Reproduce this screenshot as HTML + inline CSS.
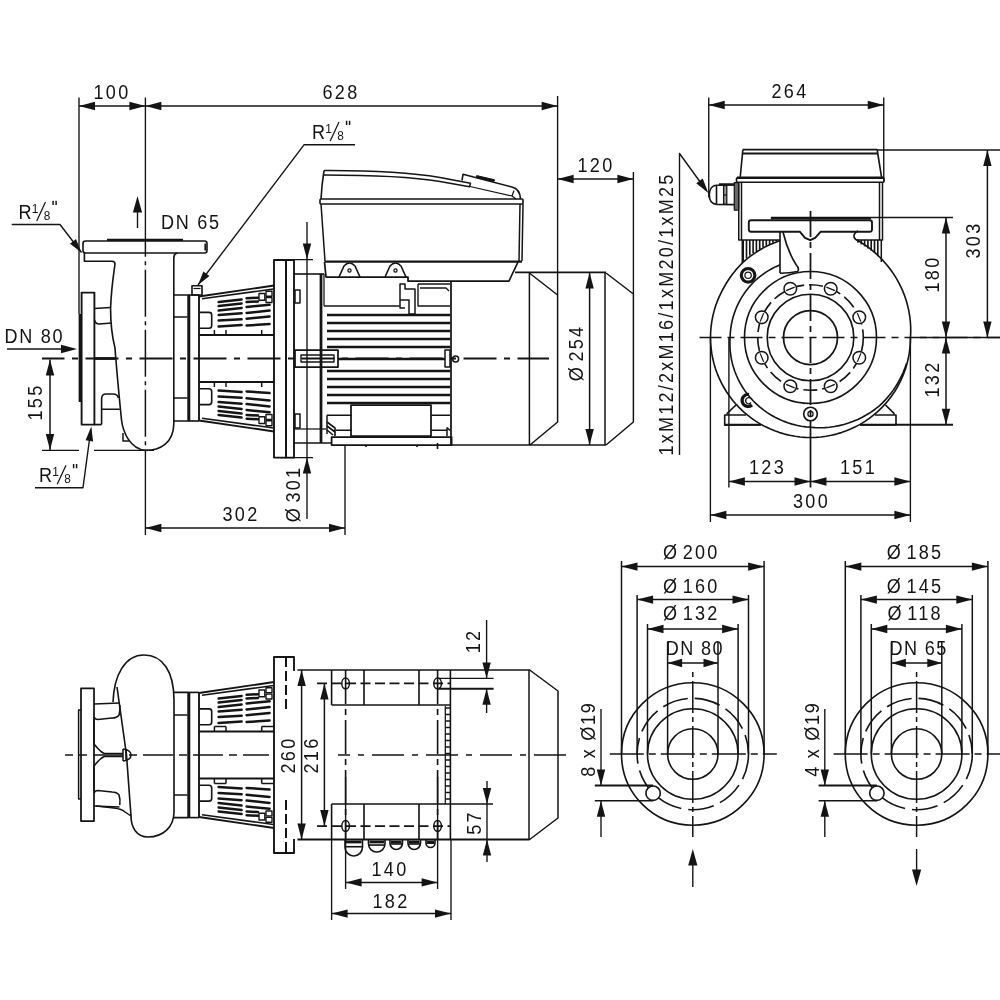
<!DOCTYPE html>
<html><head><meta charset="utf-8"><title>Pump dimension drawing</title>
<style>
html,body{margin:0;padding:0;background:#fff;}
body{width:1000px;height:1000px;overflow:hidden;}
svg{display:block;filter:grayscale(1);}
svg text{font-family:"Liberation Sans",sans-serif;fill:#141414;stroke:none;}
</style></head><body>
<svg width="1000" height="1000" viewBox="0 0 1000 1000" fill="none" stroke="#141414" stroke-linecap="butt" stroke-linejoin="round">
<rect x="0" y="0" width="1000" height="1000" fill="#ffffff" stroke="none"/>
<line x1="79" y1="97.5" x2="79" y2="314" stroke-width="1.38"/>
<line x1="145.4" y1="97.5" x2="145.4" y2="242" stroke-width="1.38"/>
<line x1="557.6" y1="96" x2="557.6" y2="295" stroke-width="1.38"/>
<line x1="79" y1="106" x2="145.4" y2="106" stroke-width="1.5"/>
<polygon points="79,106 95,101.8 95,110.2" fill="#141414" stroke="none"/>
<polygon points="145.4,106 129.4,110.2 129.4,101.8" fill="#141414" stroke="none"/>
<line x1="145.4" y1="106" x2="557.6" y2="106" stroke-width="1.5"/>
<polygon points="145.4,106 161.4,101.8 161.4,110.2" fill="#141414" stroke="none"/>
<polygon points="557.6,106 541.6,110.2 541.6,101.8" fill="#141414" stroke="none"/>
<text x="0" y="0" text-anchor="middle" font-size="21" letter-spacing="2.6" transform="translate(112 98.5) scale(0.86 1)" >100</text>
<text x="0" y="0" text-anchor="middle" font-size="21" letter-spacing="2.6" transform="translate(341 98.5) scale(0.86 1)" >628</text>
<line x1="633.4" y1="172" x2="633.4" y2="294" stroke-width="1.38"/>
<line x1="557.6" y1="179" x2="633.4" y2="179" stroke-width="1.5"/>
<polygon points="557.6,179 573.6,174.8 573.6,183.2" fill="#141414" stroke="none"/>
<polygon points="633.4,179 617.4,183.2 617.4,174.8" fill="#141414" stroke="none"/>
<text x="0" y="0" text-anchor="middle" font-size="21" letter-spacing="2.6" transform="translate(596 171.5) scale(0.86 1)" >120</text>
<line x1="589.6" y1="272.4" x2="589.6" y2="445" stroke-width="1.5"/>
<polygon points="589.6,272.4 593.8,288.4 585.4,288.4" fill="#141414" stroke="none"/>
<polygon points="589.6,445 585.4,429 593.8,429" fill="#141414" stroke="none"/>
<text x="0" y="0" text-anchor="middle" font-size="21" letter-spacing="2.6" transform="translate(583 353) rotate(-90) scale(0.86 1)" >Ø<tspan dx="-4.5"> </tspan>254</text>
<line x1="307" y1="222" x2="307" y2="519" stroke-width="1.38"/>
<polygon points="307,259.4 302.8,243.4 311.2,243.4" fill="#141414" stroke="none"/>
<line x1="274" y1="259.6" x2="313" y2="259.6" stroke-width="1.38"/>
<polygon points="307,457.6 311.2,473.6 302.8,473.6" fill="#141414" stroke="none"/>
<line x1="280" y1="457.6" x2="313" y2="457.6" stroke-width="1.38"/>
<text x="0" y="0" text-anchor="middle" font-size="21" letter-spacing="2.6" transform="translate(300 494) rotate(-90) scale(0.86 1)" >Ø<tspan dx="-4.5"> </tspan>301</text>
<line x1="145.4" y1="450" x2="145.4" y2="535" stroke-width="1.38"/>
<line x1="345" y1="445" x2="345" y2="535" stroke-width="1.38"/>
<line x1="145.4" y1="528" x2="345" y2="528" stroke-width="1.5"/>
<polygon points="145.4,528 161.4,523.8 161.4,532.2" fill="#141414" stroke="none"/>
<polygon points="345,528 329,532.2 329,523.8" fill="#141414" stroke="none"/>
<text x="0" y="0" text-anchor="middle" font-size="21" letter-spacing="2.6" transform="translate(241 521) scale(0.86 1)" >302</text>
<line x1="50" y1="359.5" x2="50" y2="450" stroke-width="1.5"/>
<polygon points="50,359.5 54.2,375.5 45.8,375.5" fill="#141414" stroke="none"/>
<polygon points="50,450 45.8,434 54.2,434" fill="#141414" stroke="none"/>
<line x1="42" y1="450.4" x2="79" y2="450.4" stroke-width="1.38"/>
<line x1="94" y1="450.4" x2="154" y2="450.4" stroke-width="1.38"/>
<text x="0" y="0" text-anchor="middle" font-size="21" letter-spacing="2.6" transform="translate(42 402) rotate(-90) scale(0.86 1)" >155</text>
<text x="0" y="0" text-anchor="start" font-size="21" letter-spacing="2.0" transform="translate(4.5 342.5) scale(0.86 1)" >DN 80</text>
<line x1="7" y1="349" x2="62" y2="349" stroke-width="1.38"/>
<polygon points="77,349 61,353.2 61,344.8" fill="#141414" stroke="none"/>
<text x="0" y="0" text-anchor="start" font-size="21" letter-spacing="0" transform="translate(18.5 218.5) scale(0.86 1)" >R</text>
<text x="0" y="0" text-anchor="start" font-size="12.5" letter-spacing="0" transform="translate(31.7 213) scale(0.95 1)" >1</text>
<line x1="36.7" y1="221" x2="45.5" y2="202" stroke-width="1.25"/>
<text x="0" y="0" text-anchor="start" font-size="12.5" letter-spacing="0" transform="translate(43.8 219.5) scale(0.95 1)" >8</text>
<path d="M53.1 205 l0 -4.2 M56.1 205 l0 -4.2" stroke-width="1.5"/>
<path d="M11.7 224.5 L60 224.5 L81.5 252.5" stroke-width="1.38" fill="none" />
<polygon points="81.5,252.5 69.96,243.71 75.99,239.08" fill="#141414" stroke="none"/>
<text x="0" y="0" text-anchor="start" font-size="21" letter-spacing="0" transform="translate(39 481.8) scale(0.86 1)" >R</text>
<text x="0" y="0" text-anchor="start" font-size="12.5" letter-spacing="0" transform="translate(52.2 476.3) scale(0.95 1)" >1</text>
<line x1="57.2" y1="484.3" x2="66" y2="465.3" stroke-width="1.25"/>
<text x="0" y="0" text-anchor="start" font-size="12.5" letter-spacing="0" transform="translate(64.3 482.8) scale(0.95 1)" >8</text>
<path d="M73.6 468.3 l0 -4.2 M76.6 468.3 l0 -4.2" stroke-width="1.5"/>
<path d="M35 487.7 L83 487.7 L90.9 429" stroke-width="1.38" fill="none" />
<polygon points="91.3,426.5 93.12,441.38 85.59,440.36" fill="#141414" stroke="none"/>
<text x="0" y="0" text-anchor="start" font-size="21" letter-spacing="0" transform="translate(312 138.5) scale(0.86 1)" >R</text>
<text x="0" y="0" text-anchor="start" font-size="12.5" letter-spacing="0" transform="translate(325.2 133) scale(0.95 1)" >1</text>
<line x1="330.2" y1="141" x2="339" y2="122" stroke-width="1.25"/>
<text x="0" y="0" text-anchor="start" font-size="12.5" letter-spacing="0" transform="translate(337.3 139.5) scale(0.95 1)" >8</text>
<path d="M346.6 125 l0 -4.2 M349.6 125 l0 -4.2" stroke-width="1.5"/>
<path d="M355 144.8 L304 144.8 L198 285" stroke-width="1.38" fill="none" />
<polygon points="198,285 203.39,271.53 209.46,276.11" fill="#141414" stroke="none"/>
<text x="0" y="0" text-anchor="start" font-size="21" letter-spacing="2.0" transform="translate(161 228.5) scale(0.86 1)" >DN 65</text>
<line x1="137.5" y1="228" x2="137.5" y2="208" stroke-width="1.38"/>
<polygon points="137.5,196 142.1,212.5 132.9,212.5" fill="#141414" stroke="none"/>
<line x1="42" y1="358.5" x2="549" y2="358.5" stroke-width="1.88" stroke-dasharray="33 7.5 6 7.5" stroke-dashoffset="10.5"/>
<line x1="145.4" y1="242" x2="145.4" y2="450.4" stroke-width="1.5" stroke-dasharray="47 4.5 4 4.5" stroke-dashoffset="32.3"/>
<rect x="83" y="241" width="124" height="12" rx="2.5" stroke-width="1.62" fill="none"/>
<line x1="107" y1="239.9" x2="183" y2="239.9" stroke-width="2.25"/>
<line x1="205.2" y1="243.5" x2="205.2" y2="250.5" stroke-width="1.62"/>
<path d="M84.4 253 L84.4 261.3 L112 261.3 Q115 261.5 115 264 C113.5 275 111.3 288 110.6 308 C110.5 325 113 340 115 348 C117 375 119.5 400 121.5 420 C123 432 130 449 145.4 450.4 C160 450.4 173.6 443 173.8 424 L173.8 258 Q173.8 253.5 177.5 253" stroke-width="1.62" fill="none" />
<rect x="81.6" y="292.6" width="12.8" height="132" rx="0" stroke-width="1.88" fill="none"/>
<line x1="80" y1="314" x2="80" y2="402" stroke-width="2.75"/>
<line x1="94.4" y1="358.5" x2="116" y2="358.5" stroke-width="2.75"/>
<path d="M94.4 308.5 L110.5 307.5 M94.4 320 Q95.5 324 99 324 L112 323" stroke-width="1.62" fill="none" />
<path d="M101.6 424.6 L101.6 399 Q101.6 394 106 394 L113 394 Q117.5 394 118.5 398 M101.6 409.3 L119.8 409.3" stroke-width="1.62" fill="none" />
<line x1="94.4" y1="424.6" x2="101.6" y2="424.6" stroke-width="1.75"/>
<path d="M123 433 L123 441 L129 441" stroke-width="1.5" fill="none" />
<path d="M173.8 295 L188 295 M173.8 421 L188 421 M173.8 317 L187.5 317 M173.8 398 L187.5 398" stroke-width="1.62" fill="none" />
<line x1="188.8" y1="295" x2="188.8" y2="421" stroke-width="3"/>
<line x1="199" y1="295" x2="199" y2="421" stroke-width="1.88"/>
<line x1="188" y1="295" x2="199" y2="295" stroke-width="1.62"/>
<line x1="188" y1="421" x2="199" y2="421" stroke-width="1.62"/>
<rect x="192" y="285.8" width="10" height="9.2" rx="0" stroke-width="1.62" fill="none"/>
<line x1="193.5" y1="288.5" x2="200.5" y2="288.5" stroke-width="1.25"/>
<line x1="199" y1="296.5" x2="274" y2="285.5" stroke-width="1.88"/>
<line x1="202" y1="298.7" x2="273.5" y2="289" stroke-width="1.5"/>
<line x1="199" y1="335" x2="274" y2="335" stroke-width="2.12"/>
<line x1="218.6" y1="326.4" x2="241.6" y2="325" stroke-width="2.5" stroke-linecap="round"/>
<line x1="218.6" y1="320.5" x2="241.6" y2="319.2" stroke-width="2.5" stroke-linecap="round"/>
<line x1="218.6" y1="315" x2="241.6" y2="313.3" stroke-width="2.5" stroke-linecap="round"/>
<line x1="218.6" y1="310.6" x2="241.6" y2="308" stroke-width="2.5" stroke-linecap="round"/>
<line x1="218.6" y1="306" x2="241.6" y2="303.4" stroke-width="2.5" stroke-linecap="round"/>
<line x1="218.6" y1="302" x2="241.6" y2="299.4" stroke-width="2.5" stroke-linecap="round"/>
<line x1="246.6" y1="325.5" x2="269.6" y2="324" stroke-width="2.5" stroke-linecap="round"/>
<line x1="246.6" y1="318.7" x2="269.6" y2="316.5" stroke-width="2.5" stroke-linecap="round"/>
<line x1="246.6" y1="312.9" x2="269.6" y2="310.6" stroke-width="2.5" stroke-linecap="round"/>
<line x1="246.6" y1="307" x2="269.6" y2="304.8" stroke-width="2.5" stroke-linecap="round"/>
<line x1="246.6" y1="302" x2="258" y2="301.5" stroke-width="2.5" stroke-linecap="round"/>
<line x1="246.6" y1="298.3" x2="258" y2="297.71" stroke-width="2.5" stroke-linecap="round"/>
<path d="M199.5 312.4 L209 312.4 Q211.7 312.4 211.7 315 L211.7 325.5 Q211.7 328.2 209 328.2 L199.5 328.2" stroke-width="1.62" fill="none" />
<rect x="259" y="293.5" width="5.8" height="6.8" rx="0" stroke-width="1.38" fill="#fff"/>
<rect x="266" y="291.3" width="6" height="4.9" rx="0" stroke-width="1.38" fill="#fff"/>
<rect x="266" y="297.6" width="6" height="4.9" rx="0" stroke-width="1.38" fill="#fff"/>
<line x1="214.4" y1="335" x2="214.4" y2="330" stroke-width="1.5"/>
<line x1="226" y1="335" x2="226" y2="330" stroke-width="1.5"/>
<line x1="261.7" y1="335" x2="261.7" y2="330" stroke-width="1.5"/>
<line x1="199" y1="420.5" x2="274" y2="431.5" stroke-width="1.88"/>
<line x1="202" y1="418.3" x2="273.5" y2="428" stroke-width="1.5"/>
<line x1="199" y1="382" x2="274" y2="382" stroke-width="2.12"/>
<line x1="218.6" y1="390.6" x2="241.6" y2="392" stroke-width="2.5" stroke-linecap="round"/>
<line x1="218.6" y1="396.5" x2="241.6" y2="397.8" stroke-width="2.5" stroke-linecap="round"/>
<line x1="218.6" y1="402" x2="241.6" y2="403.7" stroke-width="2.5" stroke-linecap="round"/>
<line x1="218.6" y1="406.4" x2="241.6" y2="409" stroke-width="2.5" stroke-linecap="round"/>
<line x1="218.6" y1="411" x2="241.6" y2="413.6" stroke-width="2.5" stroke-linecap="round"/>
<line x1="218.6" y1="415" x2="241.6" y2="417.6" stroke-width="2.5" stroke-linecap="round"/>
<line x1="246.6" y1="391.5" x2="269.6" y2="393" stroke-width="2.5" stroke-linecap="round"/>
<line x1="246.6" y1="398.3" x2="269.6" y2="400.5" stroke-width="2.5" stroke-linecap="round"/>
<line x1="246.6" y1="404.1" x2="269.6" y2="406.4" stroke-width="2.5" stroke-linecap="round"/>
<line x1="246.6" y1="410" x2="269.6" y2="412.2" stroke-width="2.5" stroke-linecap="round"/>
<line x1="246.6" y1="415" x2="258" y2="415.5" stroke-width="2.5" stroke-linecap="round"/>
<line x1="246.6" y1="418.7" x2="258" y2="419.29" stroke-width="2.5" stroke-linecap="round"/>
<path d="M199.5 404.6 L209 404.6 Q211.7 404.6 211.7 402 L211.7 391.5 Q211.7 388.8 209 388.8 L199.5 388.8" stroke-width="1.62" fill="none" />
<rect x="259" y="416.7" width="5.8" height="6.8" rx="0" stroke-width="1.38" fill="#fff"/>
<rect x="266" y="420.8" width="6" height="4.9" rx="0" stroke-width="1.38" fill="#fff"/>
<rect x="266" y="414.5" width="6" height="4.9" rx="0" stroke-width="1.38" fill="#fff"/>
<line x1="214.4" y1="382" x2="214.4" y2="387" stroke-width="1.5"/>
<line x1="226" y1="382" x2="226" y2="387" stroke-width="1.5"/>
<line x1="261.7" y1="382" x2="261.7" y2="387" stroke-width="1.5"/>
<rect x="274" y="260" width="20" height="197.6" rx="0" stroke-width="1.88" fill="none"/>
<line x1="286" y1="260" x2="286" y2="457.6" stroke-width="2"/>
<rect x="295" y="290" width="5" height="13" rx="0" stroke-width="1.5" fill="none"/>
<rect x="295" y="414" width="5" height="14" rx="0" stroke-width="1.5" fill="none"/>
<line x1="294" y1="274" x2="324" y2="274" stroke-width="1.62"/>
<line x1="294" y1="443" x2="331" y2="443" stroke-width="1.62"/>
<line x1="294" y1="429" x2="326" y2="429" stroke-width="1.25"/>
<rect x="295" y="350" width="43" height="17" rx="0" stroke-width="1.75" fill="none"/>
<rect x="301" y="355" width="33" height="7" rx="0" stroke-width="1.38" fill="none"/>
<line x1="321" y1="274" x2="321" y2="443" stroke-width="2.75"/>
<line x1="324" y1="274" x2="324" y2="306" stroke-width="1.25"/>
<line x1="324" y1="306" x2="399.5" y2="306" stroke-width="1.5"/>
<line x1="327" y1="315" x2="450" y2="315" stroke-width="2.62"/>
<line x1="327" y1="323" x2="450" y2="323" stroke-width="2.62"/>
<line x1="327" y1="331" x2="450" y2="331" stroke-width="2.62"/>
<line x1="327" y1="339" x2="450" y2="339" stroke-width="2.62"/>
<line x1="327" y1="347" x2="450" y2="347" stroke-width="2.62"/>
<line x1="327" y1="371" x2="450" y2="371" stroke-width="2.62"/>
<line x1="327" y1="379" x2="450" y2="379" stroke-width="2.62"/>
<line x1="327" y1="387" x2="450" y2="387" stroke-width="2.62"/>
<line x1="327" y1="395" x2="450" y2="395" stroke-width="2.62"/>
<line x1="327" y1="403" x2="450" y2="403" stroke-width="2.62"/>
<line x1="338" y1="359" x2="445" y2="359" stroke-width="2.62"/>
<rect x="445" y="350" width="5" height="17" rx="0" stroke-width="1.5" fill="none"/>
<circle cx="455.6" cy="359" r="3" stroke-width="1.5" fill="none"/>
<line x1="451" y1="281" x2="451" y2="445" stroke-width="1.75"/>
<rect x="351" y="405" width="80" height="31" rx="0" stroke-width="1.75" fill="none"/>
<path d="M327 415.2 L351.7 415.2 M431.2 415.2 L450 415.2 M327 415.2 L327 434 M335.5 430.2 L351.7 430.2 M431.2 430.2 L447 430.2 M447 427.5 L450 430.5 M447 427.5 L447 436" stroke-width="1.5" fill="none" />
<path d="M327 422 L335 428 L335 436 M327 426 L335 432 M327 430 L333 435" stroke-width="1.62" fill="none" />
<rect x="331.6" y="437" width="120" height="8" rx="0" stroke-width="1.75" fill="none"/>
<path d="M366 445 L366 447 M417 445 L417 447 M437.5 443 L437.5 449" stroke-width="1.62" fill="none" />
<path d="M400 284 L405 284 L405 289 L415 289 L415 314 L409 314 L409 300 L400 300 Z M400 300 L400 308 L405 308" stroke-width="1.5" fill="none" />
<path d="M418 284 L450 284 M418 284 L418 306 L450 306 M420 288 L446 288 L449 291" stroke-width="1.38" fill="none" />
<path d="M324 170.6 C365 170.4 410 172.5 440 177.5 L470.5 183.3 L469.5 186.8 L440 181.5 C410 176.5 365 175 323.5 175" stroke-width="1.5" fill="none" />
<path d="M324 170.6 C322.5 180 321.5 190 321 199" stroke-width="1.62" fill="none" />
<path d="M462 180.5 L463 174.3 L512 187 Q520 189 520.5 199 M476 176 L495 180.5" stroke-width="1.62" fill="none" />
<line x1="477" y1="176.8" x2="494" y2="180.6" stroke-width="3"/>
<path d="M470 186.5 L512 196 L514 190.5 M512 196 L516 199" stroke-width="1.25" fill="none" />
<rect x="320" y="199" width="203" height="5" rx="1" stroke-width="1.62" fill="none"/>
<path d="M321 204 L325 261 M523 204 L522 261 M520 204 L519 261" stroke-width="1.5" fill="none" />
<line x1="324.5" y1="261.5" x2="522" y2="261.5" stroke-width="2.25"/>
<path d="M518 262 L509 281 L408 281 L408 277 L326 277 L324.5 262" stroke-width="1.75" fill="none" />
<path d="M339 277 L344 266 Q349.5 260 355 266 L360 277" stroke-width="1.62" fill="none" />
<circle cx="349.5" cy="270.5" r="1.6" stroke-width="1.25" fill="none"/>
<path d="M385 277 L390 266 Q395.5 260 401 266 L406 277" stroke-width="1.62" fill="none" />
<circle cx="395.5" cy="270.5" r="1.6" stroke-width="1.25" fill="none"/>
<line x1="515" y1="272.4" x2="606" y2="272.4" stroke-width="1.62"/>
<line x1="451" y1="445" x2="606" y2="445" stroke-width="1.62"/>
<line x1="529.4" y1="272.4" x2="529.4" y2="445" stroke-width="1.5"/>
<line x1="605" y1="272.4" x2="605" y2="445" stroke-width="1.5"/>
<path d="M530 273.5 L557.6 295 L557.6 422 L530 445" stroke-width="1.5" fill="none" />
<path d="M606 273 L633.4 294 L633.4 422 L606 445" stroke-width="1.5" fill="none" />
<line x1="708.75" y1="97.5" x2="708.75" y2="197.5" stroke-width="1.38"/>
<line x1="883.75" y1="97.5" x2="883.75" y2="182" stroke-width="1.38"/>
<line x1="708.75" y1="105" x2="883.75" y2="105" stroke-width="1.5"/>
<polygon points="708.75,105 724.75,100.8 724.75,109.2" fill="#141414" stroke="none"/>
<polygon points="883.75,105 867.75,109.2 867.75,100.8" fill="#141414" stroke="none"/>
<text x="0" y="0" text-anchor="middle" font-size="21" letter-spacing="2.6" transform="translate(790 98) scale(0.86 1)" >264</text>
<line x1="877" y1="150" x2="1000" y2="150" stroke-width="1.38"/>
<line x1="771" y1="217.5" x2="953" y2="217.5" stroke-width="1.38"/>
<line x1="724" y1="424.8" x2="761" y2="424.8" stroke-width="2"/>
<line x1="860" y1="424.8" x2="953" y2="424.8" stroke-width="2"/>
<line x1="987.4" y1="150" x2="987.4" y2="337.5" stroke-width="1.5"/>
<polygon points="987.4,150 991.6,166 983.2,166" fill="#141414" stroke="none"/>
<polygon points="987.4,337.5 983.2,321.5 991.6,321.5" fill="#141414" stroke="none"/>
<line x1="946" y1="217.5" x2="946" y2="337.5" stroke-width="1.5"/>
<polygon points="946,217.5 950.2,233.5 941.8,233.5" fill="#141414" stroke="none"/>
<polygon points="946,337.5 941.8,321.5 950.2,321.5" fill="#141414" stroke="none"/>
<line x1="946" y1="337.5" x2="946" y2="424.8" stroke-width="1.5"/>
<polygon points="946,337.5 950.2,353.5 941.8,353.5" fill="#141414" stroke="none"/>
<polygon points="946,424.8 941.8,408.8 950.2,408.8" fill="#141414" stroke="none"/>
<text x="0" y="0" text-anchor="middle" font-size="21" letter-spacing="2.6" transform="translate(980 240) rotate(-90) scale(0.86 1)" >303</text>
<text x="0" y="0" text-anchor="middle" font-size="21" letter-spacing="2.6" transform="translate(938.5 274) rotate(-90) scale(0.86 1)" >180</text>
<text x="0" y="0" text-anchor="middle" font-size="21" letter-spacing="2.6" transform="translate(938.5 379) rotate(-90) scale(0.86 1)" >132</text>
<text x="0" y="0" text-anchor="middle" font-size="21" letter-spacing="2.6" transform="translate(672.5 314) rotate(-90) scale(0.86 1)" >1xM12/2xM16/1xM20/1xM25</text>
<path d="M679.5 455 L679.5 153.5 L706 190" stroke-width="1.38" fill="none" />
<polygon points="708.3,193 696.25,183.22 702.72,178.51" fill="#141414" stroke="none"/>
<line x1="710.4" y1="337.5" x2="710.4" y2="522" stroke-width="1.38"/>
<line x1="910.4" y1="337.5" x2="910.4" y2="522" stroke-width="1.38"/>
<line x1="728.9" y1="337.5" x2="728.9" y2="487.5" stroke-width="1.38"/>
<line x1="810.5" y1="437.5" x2="810.5" y2="487.5" stroke-width="1.75"/>
<line x1="728.9" y1="481.5" x2="810.5" y2="481.5" stroke-width="1.5"/>
<polygon points="728.9,481.5 744.9,477.3 744.9,485.7" fill="#141414" stroke="none"/>
<polygon points="810.5,481.5 794.5,485.7 794.5,477.3" fill="#141414" stroke="none"/>
<line x1="810.5" y1="481.5" x2="910.4" y2="481.5" stroke-width="1.5"/>
<polygon points="810.5,481.5 826.5,477.3 826.5,485.7" fill="#141414" stroke="none"/>
<polygon points="910.4,481.5 894.4,485.7 894.4,477.3" fill="#141414" stroke="none"/>
<line x1="710.4" y1="515" x2="910.4" y2="515" stroke-width="1.5"/>
<polygon points="710.4,515 726.4,510.8 726.4,519.2" fill="#141414" stroke="none"/>
<polygon points="910.4,515 894.4,519.2 894.4,510.8" fill="#141414" stroke="none"/>
<text x="0" y="0" text-anchor="middle" font-size="21" letter-spacing="2.6" transform="translate(767.5 474) scale(0.86 1)" >123</text>
<text x="0" y="0" text-anchor="middle" font-size="21" letter-spacing="2.6" transform="translate(858.5 474) scale(0.86 1)" >151</text>
<text x="0" y="0" text-anchor="middle" font-size="21" letter-spacing="2.6" transform="translate(811.5 507.5) scale(0.86 1)" >300</text>
<line x1="699.5" y1="337.5" x2="1000" y2="337.5" stroke-width="1.62" stroke-dasharray="22 6 7 6"/>
<line x1="920" y1="337.5" x2="1000" y2="337.5" stroke-width="1.62"/>
<line x1="810.5" y1="211" x2="810.5" y2="437.5" stroke-width="1.75" stroke-dasharray="26 5 6 5"/>
<line x1="742.5" y1="149.7" x2="877.5" y2="149.7" stroke-width="1.75"/>
<line x1="743" y1="153.5" x2="877" y2="153.5" stroke-width="2.12"/>
<path d="M742.8 150 L740.2 177.5 M877.2 150 L881.6 177.5" stroke-width="1.62" fill="none" />
<rect x="736.5" y="177.8" width="147.5" height="4.5" rx="1" stroke-width="1.62" fill="none"/>
<line x1="737" y1="177.8" x2="883.5" y2="177.8" stroke-width="2.38"/>
<path d="M738.75 182.5 L738.75 240 L780 240 M857 240 L882.5 240 L882.5 182.5 M879.5 182.5 L879.5 240 M741.5 182.5 L741.5 240" stroke-width="1.5" fill="none" />
<path d="M716.5 185.2 C711.5 185.5 709.3 190 709.3 195 C709.3 200 711.5 204 716.5 204.4" stroke-width="1.62" fill="none" />
<path d="M716.5 185.2 L734.3 184.8 M716.5 204.4 L734.3 204.6 M716.5 185.2 L716.5 204.4" stroke-width="1.62" fill="none" />
<line x1="719" y1="184.6" x2="734" y2="184.4" stroke-width="2.5"/>
<rect x="723.6" y="185.5" width="3.2" height="18.7" rx="0" stroke-width="1.25" fill="#9a9a9a"/>
<line x1="723.6" y1="195" x2="726.8" y2="195" stroke-width="1.25"/>
<rect x="734.3" y="182.5" width="4.3" height="27.5" rx="0" stroke-width="1.25" fill="#6a6a6a"/>
<path d="M800 231.8 L751 231.8 Q748.8 231.8 748.8 229.6 L748.8 222.4 Q748.8 220.2 751 220.2 L869.8 220.2 Q872 220.2 872 222.4 L872 229.6 Q872 231.8 869.8 231.8 L820.5 231.8 L815.2 237.8 L810.3 240.2 L805 237.8 Z" stroke-width="1.88" fill="none" />
<line x1="770.8" y1="218.2" x2="871" y2="218.2" stroke-width="2.12"/>
<path d="M780 231 L780 273 M783 232 C786 245 790 255 796 264.5 Q800 269 797.5 271.5 Q790 273 780 273.2" stroke-width="1.62" fill="none" />
<path d="M858 231 Q853.5 233 854 237 Q855 240 858.5 240.5" stroke-width="1.62" fill="none" />
<line x1="743.2" y1="240" x2="743.2" y2="260.85" stroke-width="1.62"/>
<line x1="746.5" y1="240" x2="746.5" y2="258.08" stroke-width="1.62"/>
<line x1="749.8" y1="240" x2="749.8" y2="255.53" stroke-width="1.62"/>
<line x1="753.1" y1="240" x2="753.1" y2="253.18" stroke-width="1.62"/>
<line x1="756.4" y1="240" x2="756.4" y2="251.03" stroke-width="1.62"/>
<line x1="759.7" y1="240" x2="759.7" y2="249.05" stroke-width="1.62"/>
<line x1="763" y1="240" x2="763" y2="247.24" stroke-width="1.62"/>
<line x1="766.3" y1="240" x2="766.3" y2="245.57" stroke-width="1.62"/>
<line x1="769.6" y1="240" x2="769.6" y2="244.06" stroke-width="1.62"/>
<line x1="772.9" y1="240" x2="772.9" y2="242.68" stroke-width="1.62"/>
<line x1="776.2" y1="240" x2="776.2" y2="241.44" stroke-width="1.62"/>
<line x1="779.5" y1="240" x2="779.5" y2="240.32" stroke-width="1.62"/>
<line x1="858" y1="240" x2="858" y2="242.74" stroke-width="1.62"/>
<line x1="861.3" y1="240" x2="861.3" y2="244.47" stroke-width="1.62"/>
<line x1="864.6" y1="240" x2="864.6" y2="246.35" stroke-width="1.62"/>
<line x1="867.9" y1="240" x2="867.9" y2="248.39" stroke-width="1.62"/>
<line x1="871.2" y1="240" x2="871.2" y2="250.6" stroke-width="1.62"/>
<line x1="874.5" y1="240" x2="874.5" y2="253" stroke-width="1.62"/>
<line x1="877.8" y1="240" x2="877.8" y2="255.61" stroke-width="1.62"/>
<line x1="742.3" y1="240" x2="742.3" y2="263" stroke-width="1.5"/>
<line x1="881.3" y1="240" x2="881.3" y2="262" stroke-width="1.5"/>
<path d="M779.6 240.82 L774.55 242.65 L769.6 244.74 L764.78 247.09 L760.09 249.69 L755.54 252.54 L751.16 255.62 L746.95 258.92 L742.92 262.44 L739.2 266.2 L735.69 270.14 L732.4 274.25 L729.33 278.53 L726.49 282.95 L723.9 287.5 L721.4 292.1 L719.15 296.83 L717.14 301.66 L715.39 306.6 L713.91 311.62 L712.69 316.71 L711.73 321.86 L711.05 327.05 L710.64 332.27 L710.5 337.5 L710.64 342.73 L711.05 347.95 L711.73 353.14 L712.69 358.29 L713.91 363.38 L715.39 368.4 L717.14 373.34 L719.15 378.17 L721.4 382.9 L723.9 387.5 L726.63 391.96 L729.6 396.28 L732.79 400.43 L736.19 404.41 L739.79 408.21 L743.59 411.81 L747.57 415.21 L751.72 418.4 L756.04 421.37 L760.5 424.1 L765.1 426.6 L769.83 428.85 L774.66 430.86 L779.6 432.61 L784.62 434.09 L789.71 435.31 L794.86 436.27 L800.05 436.95 L805.27 437.36 L810.5 437.5 L815.73 437.36 L820.95 436.95 L826.14 436.27 L831.29 435.31 L836.38 434.09 L841.4 432.61 L846.34 430.86 L851.17 428.85 L855.9 426.6 L860.5 424.1 L864.96 421.37 L869.28 418.4 L873.43 415.21 L877.41 411.81 L881.21 408.21 L884.81 404.41 L888.21 400.43 L891.4 396.28 L894.37 391.96 L897.1 387.5 L899.6 382.9 L901.85 378.17 L903.86 373.34 L905.61 368.4 L907.09 363.38 L908.31 358.29 L909.27 353.14 L909.95 347.95 L910.36 342.73 L910.5 337.5 L910.73 332.08 L910.67 326.63 L910.32 321.18 L909.66 315.73 L908.71 310.31 L907.46 304.92 L905.91 299.59 L904.07 294.34 L901.94 289.17 L899.53 284.11 L896.83 279.17 L893.86 274.36 L890.62 269.7 L887.12 265.22 L883.36 260.91 L879.37 256.8 L875.14 252.89 L870.69 249.21 L866.04 245.76 L861.18 242.56 L856.14 239.62" stroke-width="1.62" fill="none" />
<path d="M779.71 264.96 L775.87 266.64 L772.12 268.51 L768.47 270.59 L764.93 272.86 L761.51 275.31 L758.23 277.95 L755.09 280.76 L752.1 283.73 L749.27 286.86 L746.61 290.14 L744.12 293.57 L741.82 297.12 L739.71 300.79 L737.79 304.57 L736.08 308.46 L734.57 312.43 L733.27 316.48 L732.19 320.6 L731.34 324.77 L730.7 328.98 L730.29 333.23 L730.1 337.5 L729.9 341.72 L729.92 345.97 L730.16 350.22 L730.63 354.48 L731.33 358.71 L732.25 362.93 L733.39 367.1 L734.76 371.22 L736.35 375.28 L738.16 379.27 L740.18 383.17 L742.41 386.97 L744.85 390.66 L747.49 394.23 L750.33 397.67 L753.35 400.97 L756.55 404.12 L759.93 407.11 L763.47 409.92 L767.17 412.56 L771.01 415 L774.99 417.25 L779.1 419.29 L783.33 421.12 L787.66 422.73 L792.09 424.11 L796.6 425.27 L801.18 426.18 L805.82 426.86 L810.5 427.3 L815.22 427.66 L819.99 427.76 L824.77 427.62 L829.57 427.22 L834.36 426.56 L839.14 425.64 L843.89 424.47 L848.59 423.04 L853.23 421.36 L857.8 419.43 L862.28 417.24 L866.67 414.81 L870.94 412.14 L875.08 409.23 L879.09 406.09 L882.77 402.57 L886.27 398.86 L889.58 394.96 L892.69 390.87 L895.59 386.63 L898.26 382.22 L900.71 377.67 L902.92 372.98 L904.89 368.17 L906.61 363.25" stroke-width="1.62" fill="none" />
<circle cx="810.5" cy="337.5" r="66" stroke-width="1.62" fill="none"/>
<circle cx="810.5" cy="337.5" r="52.8" stroke-width="1.62" fill="none" stroke-dasharray="14 5"/>
<circle cx="810.5" cy="337.5" r="43.3" stroke-width="1.62" fill="none"/>
<circle cx="810.5" cy="337.5" r="27" stroke-width="1.75" fill="none"/>
<circle cx="859.28" cy="317.29" r="6.3" stroke-width="1.5" fill="#fff"/>
<line x1="860.86" y1="321.62" x2="857.33" y2="313.12" stroke-width="1.25"/>
<circle cx="830.71" cy="288.72" r="6.3" stroke-width="1.5" fill="#fff"/>
<line x1="834.88" y1="290.67" x2="826.38" y2="287.14" stroke-width="1.25"/>
<circle cx="790.29" cy="288.72" r="6.3" stroke-width="1.5" fill="#fff"/>
<line x1="794.62" y1="287.14" x2="786.12" y2="290.67" stroke-width="1.25"/>
<circle cx="761.72" cy="317.29" r="6.3" stroke-width="1.5" fill="#fff"/>
<line x1="763.67" y1="313.12" x2="760.14" y2="321.62" stroke-width="1.25"/>
<circle cx="761.72" cy="357.71" r="6.3" stroke-width="1.5" fill="#fff"/>
<line x1="760.14" y1="353.38" x2="763.67" y2="361.88" stroke-width="1.25"/>
<circle cx="790.29" cy="386.28" r="6.3" stroke-width="1.5" fill="#fff"/>
<line x1="786.12" y1="384.33" x2="794.62" y2="387.86" stroke-width="1.25"/>
<circle cx="830.71" cy="386.28" r="6.3" stroke-width="1.5" fill="#fff"/>
<line x1="826.38" y1="387.86" x2="834.88" y2="384.33" stroke-width="1.25"/>
<circle cx="859.28" cy="357.71" r="6.3" stroke-width="1.5" fill="#fff"/>
<line x1="857.33" y1="361.88" x2="860.86" y2="353.38" stroke-width="1.25"/>
<circle cx="810.5" cy="414" r="6.8" stroke-width="1.62" fill="none"/>
<circle cx="810.5" cy="414" r="2.6" stroke-width="1.25" fill="none"/>
<circle cx="748.1" cy="275.3" r="6.8" stroke-width="3.12" fill="none"/>
<circle cx="748.1" cy="275.3" r="3.2" stroke-width="1.25" fill="none"/>
<path d="M749 394.5 A6 6 0 1 0 752 405" stroke-width="3.25" fill="none" />
<path d="M750 398 A3 3 0 1 0 751 402.5" stroke-width="1.25" fill="none" />
<path d="M761 425 L724.7 425 L724.7 415 L746 415 M726.7 413.8 L736 405" stroke-width="1.62" fill="none" />
<path d="M860 425 L896 425 L896 415 L875 415 M894.5 413.8 L885.5 405" stroke-width="1.62" fill="none" />
<line x1="65" y1="755" x2="269" y2="755" stroke-width="1.5" stroke-dasharray="30 6 8 6" stroke-dashoffset="22"/>
<line x1="338" y1="755" x2="566" y2="755" stroke-width="1.5" stroke-dasharray="32 8 6 8" stroke-dashoffset="20"/>
<rect x="81" y="688.4" width="13" height="132.6" rx="0" stroke-width="1.75" fill="none"/>
<path d="M81 710 L78.6 710 L78.6 799 L81 799" stroke-width="1.5" fill="none" />
<path d="M94 704 L119.5 703 M119.8 705 Q120.5 711 119 715 Q117 718 112 718 L98 719.5 Q95 719.5 94 717" stroke-width="1.62" fill="none" />
<path d="M94 719 L94 744 Q98 749 101 751.5 L104 753.5" stroke-width="1.62" fill="none" />
<path d="M94 806 L119.5 807 M119.8 805 Q120.5 799 119 795 Q117 792 112 792 L98 790.5 Q95 790.5 94 793" stroke-width="1.62" fill="none" />
<path d="M94 791 L94 766 Q98 761 101 758.5 L104 756.5" stroke-width="1.62" fill="none" />
<path d="M104 753.4 L123 753.4 M104 756.6 L123 756.6 M123 749 L123 761 M123 749 Q131 750 131 755 Q131 760 123 761 M126 749.5 L126 760.5" stroke-width="1.5" fill="none" />
<path d="M96 806 L114 808 Q122 809 125 812 L131 816" stroke-width="1.5" fill="none" />
<path d="M113 702 C114 675 125 655 144 655 C163 655 174 672 174 700 L174 812 C174 827 163 837 148 837 C137 837 130.5 828 131 814 M117 687 L126.5 755 L131 816" stroke-width="1.62" fill="none" />
<path d="M174 692.4 L188 692.4 M174 817.6 L188 817.6 M174 715 L187.5 715 M174 795 L187.5 795" stroke-width="1.62" fill="none" />
<line x1="188.8" y1="692.4" x2="188.8" y2="817.6" stroke-width="3"/>
<line x1="199" y1="692.4" x2="199" y2="817.6" stroke-width="1.88"/>
<line x1="188" y1="692.4" x2="199" y2="692.4" stroke-width="1.62"/>
<line x1="188" y1="817.6" x2="199" y2="817.6" stroke-width="1.62"/>
<line x1="199" y1="693" x2="274" y2="682" stroke-width="1.88"/>
<line x1="202" y1="695.2" x2="273.5" y2="685.5" stroke-width="1.5"/>
<line x1="199" y1="731.5" x2="274" y2="731.5" stroke-width="2.12"/>
<line x1="218.6" y1="722.9" x2="241.6" y2="721.5" stroke-width="2.5" stroke-linecap="round"/>
<line x1="218.6" y1="717" x2="241.6" y2="715.7" stroke-width="2.5" stroke-linecap="round"/>
<line x1="218.6" y1="711.5" x2="241.6" y2="709.8" stroke-width="2.5" stroke-linecap="round"/>
<line x1="218.6" y1="707.1" x2="241.6" y2="704.5" stroke-width="2.5" stroke-linecap="round"/>
<line x1="218.6" y1="702.5" x2="241.6" y2="699.9" stroke-width="2.5" stroke-linecap="round"/>
<line x1="218.6" y1="698.5" x2="241.6" y2="695.9" stroke-width="2.5" stroke-linecap="round"/>
<line x1="246.6" y1="722" x2="269.6" y2="720.5" stroke-width="2.5" stroke-linecap="round"/>
<line x1="246.6" y1="715.2" x2="269.6" y2="713" stroke-width="2.5" stroke-linecap="round"/>
<line x1="246.6" y1="709.4" x2="269.6" y2="707.1" stroke-width="2.5" stroke-linecap="round"/>
<line x1="246.6" y1="703.5" x2="269.6" y2="701.3" stroke-width="2.5" stroke-linecap="round"/>
<line x1="246.6" y1="698.5" x2="258" y2="698" stroke-width="2.5" stroke-linecap="round"/>
<line x1="246.6" y1="694.8" x2="258" y2="694.21" stroke-width="2.5" stroke-linecap="round"/>
<path d="M199.5 708.9 L209 708.9 Q211.7 708.9 211.7 711.5 L211.7 722 Q211.7 724.7 209 724.7 L199.5 724.7" stroke-width="1.62" fill="none" />
<rect x="259" y="690" width="5.8" height="6.8" rx="0" stroke-width="1.38" fill="#fff"/>
<rect x="266" y="687.8" width="6" height="4.9" rx="0" stroke-width="1.38" fill="#fff"/>
<rect x="266" y="694.1" width="6" height="4.9" rx="0" stroke-width="1.38" fill="#fff"/>
<line x1="214.4" y1="731.5" x2="214.4" y2="726.5" stroke-width="1.5"/>
<line x1="226" y1="731.5" x2="226" y2="726.5" stroke-width="1.5"/>
<line x1="261.7" y1="731.5" x2="261.7" y2="726.5" stroke-width="1.5"/>
<line x1="214.4" y1="726.5" x2="226" y2="726.5" stroke-width="1.5"/>
<line x1="261.7" y1="726.5" x2="273.5" y2="726.5" stroke-width="1.5"/>
<line x1="199" y1="817" x2="274" y2="828" stroke-width="1.88"/>
<line x1="202" y1="814.8" x2="273.5" y2="824.5" stroke-width="1.5"/>
<line x1="199" y1="778.5" x2="274" y2="778.5" stroke-width="2.12"/>
<line x1="218.6" y1="787.1" x2="241.6" y2="788.5" stroke-width="2.5" stroke-linecap="round"/>
<line x1="218.6" y1="793" x2="241.6" y2="794.3" stroke-width="2.5" stroke-linecap="round"/>
<line x1="218.6" y1="798.5" x2="241.6" y2="800.2" stroke-width="2.5" stroke-linecap="round"/>
<line x1="218.6" y1="802.9" x2="241.6" y2="805.5" stroke-width="2.5" stroke-linecap="round"/>
<line x1="218.6" y1="807.5" x2="241.6" y2="810.1" stroke-width="2.5" stroke-linecap="round"/>
<line x1="218.6" y1="811.5" x2="241.6" y2="814.1" stroke-width="2.5" stroke-linecap="round"/>
<line x1="246.6" y1="788" x2="269.6" y2="789.5" stroke-width="2.5" stroke-linecap="round"/>
<line x1="246.6" y1="794.8" x2="269.6" y2="797" stroke-width="2.5" stroke-linecap="round"/>
<line x1="246.6" y1="800.6" x2="269.6" y2="802.9" stroke-width="2.5" stroke-linecap="round"/>
<line x1="246.6" y1="806.5" x2="269.6" y2="808.7" stroke-width="2.5" stroke-linecap="round"/>
<line x1="246.6" y1="811.5" x2="258" y2="812" stroke-width="2.5" stroke-linecap="round"/>
<line x1="246.6" y1="815.2" x2="258" y2="815.79" stroke-width="2.5" stroke-linecap="round"/>
<path d="M199.5 801.1 L209 801.1 Q211.7 801.1 211.7 798.5 L211.7 788 Q211.7 785.3 209 785.3 L199.5 785.3" stroke-width="1.62" fill="none" />
<rect x="259" y="813.2" width="5.8" height="6.8" rx="0" stroke-width="1.38" fill="#fff"/>
<rect x="266" y="817.3" width="6" height="4.9" rx="0" stroke-width="1.38" fill="#fff"/>
<rect x="266" y="811" width="6" height="4.9" rx="0" stroke-width="1.38" fill="#fff"/>
<line x1="214.4" y1="778.5" x2="214.4" y2="783.5" stroke-width="1.5"/>
<line x1="226" y1="778.5" x2="226" y2="783.5" stroke-width="1.5"/>
<line x1="261.7" y1="778.5" x2="261.7" y2="783.5" stroke-width="1.5"/>
<line x1="214.4" y1="783.5" x2="226" y2="783.5" stroke-width="1.5"/>
<line x1="261.7" y1="783.5" x2="273.5" y2="783.5" stroke-width="1.5"/>
<path d="M294 671 L294 657 L274 657 L274 853 L294 853 L294 839" stroke-width="1.88" fill="none" />
<line x1="286" y1="657" x2="286" y2="710" stroke-width="2" stroke-dasharray="10 4"/>
<line x1="286" y1="800" x2="286" y2="853" stroke-width="2" stroke-dasharray="10 4"/>
<line x1="297.4" y1="670" x2="529" y2="670" stroke-width="1.69"/>
<line x1="297.4" y1="839.6" x2="529" y2="839.6" stroke-width="2"/>
<path d="M331.6 670 L331.6 705 M364 670 L364 705 M419 670 L419 705" stroke-width="1.62" fill="none" />
<path d="M331.6 804 L331.6 839.6 M364 804 L364 839.6 M419 804 L419 839.6" stroke-width="1.62" fill="none" />
<line x1="331.6" y1="705" x2="450.4" y2="705" stroke-width="1.56"/>
<line x1="331.6" y1="804" x2="493" y2="804" stroke-width="1.56"/>
<line x1="317" y1="683.4" x2="450" y2="683.4" stroke-width="1.75" stroke-dasharray="10 4.5"/>
<ellipse cx="345.6" cy="683.4" rx="3.8" ry="5.4" stroke-width="1.5" fill="none"/>
<ellipse cx="437.6" cy="683.4" rx="3.8" ry="5.4" stroke-width="1.5" fill="none"/>
<line x1="317" y1="826" x2="450" y2="826" stroke-width="1.75" stroke-dasharray="10 4.5"/>
<ellipse cx="345.6" cy="826" rx="3.8" ry="5.4" stroke-width="1.5" fill="none"/>
<ellipse cx="437.6" cy="826" rx="3.8" ry="5.4" stroke-width="1.5" fill="none"/>
<line x1="345.6" y1="670" x2="345.6" y2="840" stroke-width="1.62" stroke-dasharray="34 5 6 5"/>
<line x1="437.6" y1="670" x2="437.6" y2="840" stroke-width="1.62" stroke-dasharray="34 5 6 5"/>
<line x1="450.4" y1="670" x2="450.4" y2="839.6" stroke-width="1.62"/>
<line x1="529" y1="670" x2="529" y2="839.6" stroke-width="1.5"/>
<path d="M529 669.5 L558 691 L558 818 L529 840" stroke-width="1.5" fill="none" />
<line x1="445.3" y1="706" x2="445.3" y2="804" stroke-width="1.25"/>
<line x1="445.3" y1="708" x2="450" y2="708" stroke-width="1.5"/>
<line x1="445.3" y1="714.5" x2="450" y2="714.5" stroke-width="1.5"/>
<line x1="445.3" y1="721" x2="450" y2="721" stroke-width="1.5"/>
<line x1="445.3" y1="727.5" x2="450" y2="727.5" stroke-width="1.5"/>
<line x1="445.3" y1="734" x2="450" y2="734" stroke-width="1.5"/>
<line x1="445.3" y1="740.5" x2="450" y2="740.5" stroke-width="1.5"/>
<line x1="445.3" y1="747" x2="450" y2="747" stroke-width="1.5"/>
<line x1="445.3" y1="753.5" x2="450" y2="753.5" stroke-width="1.5"/>
<line x1="445.3" y1="760" x2="450" y2="760" stroke-width="1.5"/>
<line x1="445.3" y1="766.5" x2="450" y2="766.5" stroke-width="1.5"/>
<line x1="445.3" y1="773" x2="450" y2="773" stroke-width="1.5"/>
<line x1="445.3" y1="779.5" x2="450" y2="779.5" stroke-width="1.5"/>
<line x1="445.3" y1="786" x2="450" y2="786" stroke-width="1.5"/>
<line x1="445.3" y1="792.5" x2="450" y2="792.5" stroke-width="1.5"/>
<line x1="445.3" y1="799" x2="450" y2="799" stroke-width="1.5"/>
<line x1="301.6" y1="670" x2="301.6" y2="839.6" stroke-width="1.5"/>
<polygon points="301.6,670 305.8,686 297.4,686" fill="#141414" stroke="none"/>
<polygon points="301.6,839.6 297.4,823.6 305.8,823.6" fill="#141414" stroke="none"/>
<line x1="324.4" y1="683.4" x2="324.4" y2="826" stroke-width="1.5"/>
<polygon points="324.4,683.4 328.6,699.4 320.2,699.4" fill="#141414" stroke="none"/>
<polygon points="324.4,826 320.2,810 328.6,810" fill="#141414" stroke="none"/>
<text x="0" y="0" text-anchor="middle" font-size="21" letter-spacing="2.6" transform="translate(295 755) rotate(-90) scale(0.86 1)" >260</text>
<text x="0" y="0" text-anchor="middle" font-size="21" letter-spacing="2.6" transform="translate(317.5 755) rotate(-90) scale(0.86 1)" >216</text>
<line x1="437.6" y1="678.4" x2="493.6" y2="678.4" stroke-width="1.38"/>
<line x1="437.6" y1="688.8" x2="493.6" y2="688.8" stroke-width="1.88"/>
<line x1="486.6" y1="620" x2="486.6" y2="678" stroke-width="1.38"/>
<polygon points="486.6,678.4 482.4,662.4 490.8,662.4" fill="#141414" stroke="none"/>
<line x1="486.6" y1="689" x2="486.6" y2="713" stroke-width="1.38"/>
<polygon points="486.6,688.8 490.8,704.8 482.4,704.8" fill="#141414" stroke="none"/>
<text x="0" y="0" text-anchor="middle" font-size="21" letter-spacing="2.6" transform="translate(480 641) rotate(-90) scale(0.86 1)" >12</text>
<line x1="487" y1="781" x2="487" y2="862" stroke-width="1.38"/>
<polygon points="487,804 482.8,788 491.2,788" fill="#141414" stroke="none"/>
<polygon points="487,839.6 491.2,855.6 482.8,855.6" fill="#141414" stroke="none"/>
<text x="0" y="0" text-anchor="middle" font-size="21" letter-spacing="2.6" transform="translate(481 822.5) rotate(-90) scale(0.86 1)" >57</text>
<line x1="345.6" y1="777" x2="345.6" y2="889" stroke-width="1.38"/>
<line x1="437.6" y1="777" x2="437.6" y2="889" stroke-width="1.38"/>
<line x1="331.6" y1="839.6" x2="331.6" y2="920" stroke-width="1.38"/>
<line x1="451" y1="839.6" x2="451" y2="920" stroke-width="1.38"/>
<line x1="345.6" y1="882.4" x2="437.6" y2="882.4" stroke-width="1.5"/>
<polygon points="345.6,882.4 361.6,878.2 361.6,886.6" fill="#141414" stroke="none"/>
<polygon points="437.6,882.4 421.6,886.6 421.6,878.2" fill="#141414" stroke="none"/>
<line x1="331.6" y1="913.6" x2="451" y2="913.6" stroke-width="1.5"/>
<polygon points="331.6,913.6 347.6,909.4 347.6,917.8" fill="#141414" stroke="none"/>
<polygon points="451,913.6 435,917.8 435,909.4" fill="#141414" stroke="none"/>
<text x="0" y="0" text-anchor="middle" font-size="21" letter-spacing="2.6" transform="translate(390 876) scale(0.86 1)" >140</text>
<text x="0" y="0" text-anchor="middle" font-size="21" letter-spacing="2.6" transform="translate(391 907.6) scale(0.86 1)" >182</text>
<path d="M345 840 L345 847.25 A8.75 8.75 0 0 0 362.5 847.25 L362.5 840" stroke-width="1.62" fill="none" />
<path d="M345.5 846.72 L362 846.72" stroke-width="1.62" fill="none" />
<line x1="346" y1="842" x2="361.5" y2="842" stroke-width="2.75"/>
<path d="M368.5 840 L368.5 843.75 A8.25 8.25 0 0 0 385 843.75 L385 840" stroke-width="1.62" fill="none" />
<path d="M369 845.04 L384.5 845.04" stroke-width="1.62" fill="none" />
<line x1="369.5" y1="842" x2="384" y2="842" stroke-width="2.75"/>
<path d="M390 840 L390 843.25 A6.25 6.25 0 0 0 402.5 843.25 L402.5 840" stroke-width="1.62" fill="none" />
<path d="M390.5 843.99 L402 843.99" stroke-width="1.62" fill="none" />
<line x1="391" y1="842" x2="401.5" y2="842" stroke-width="2.75"/>
<path d="M408 840 L408 843.25 A6.25 6.25 0 0 0 420.5 843.25 L420.5 840" stroke-width="1.62" fill="none" />
<path d="M408.5 843.99 L420 843.99" stroke-width="1.62" fill="none" />
<line x1="409" y1="842" x2="419.5" y2="842" stroke-width="2.75"/>
<path d="M426 840 L426 843 A4.5 4.5 0 0 0 435 843 L435 840" stroke-width="1.62" fill="none" />
<path d="M426.5 843.15 L434.5 843.15" stroke-width="1.62" fill="none" />
<line x1="427" y1="842" x2="434" y2="842" stroke-width="2.75"/>
<line x1="621.5" y1="561" x2="621.5" y2="754" stroke-width="1.5"/>
<line x1="764.1" y1="561" x2="764.1" y2="754" stroke-width="1.5"/>
<line x1="621.5" y1="566.6" x2="764.1" y2="566.6" stroke-width="1.5"/>
<polygon points="621.5,566.6 637.5,562.4 637.5,570.8" fill="#141414" stroke="none"/>
<polygon points="764.1,566.6 748.1,570.8 748.1,562.4" fill="#141414" stroke="none"/>
<text x="0" y="0" text-anchor="middle" font-size="21" letter-spacing="2.6" transform="translate(691.3 558.5) scale(0.86 1)" >Ø<tspan dx="-4.5"> </tspan>200</text>
<line x1="637.1" y1="595" x2="637.1" y2="754" stroke-width="1.5"/>
<line x1="748.5" y1="595" x2="748.5" y2="754" stroke-width="1.5"/>
<line x1="637.1" y1="599.6" x2="748.5" y2="599.6" stroke-width="1.5"/>
<polygon points="637.1,599.6 653.1,595.4 653.1,603.8" fill="#141414" stroke="none"/>
<polygon points="748.5,599.6 732.5,603.8 732.5,595.4" fill="#141414" stroke="none"/>
<text x="0" y="0" text-anchor="middle" font-size="21" letter-spacing="2.6" transform="translate(691.3 592.5) scale(0.86 1)" >Ø<tspan dx="-4.5"> </tspan>160</text>
<line x1="647.5" y1="624" x2="647.5" y2="754" stroke-width="1.5"/>
<line x1="738.1" y1="624" x2="738.1" y2="754" stroke-width="1.5"/>
<line x1="647.5" y1="629" x2="738.1" y2="629" stroke-width="1.5"/>
<polygon points="647.5,629 663.5,624.8 663.5,633.2" fill="#141414" stroke="none"/>
<polygon points="738.1,629 722.1,633.2 722.1,624.8" fill="#141414" stroke="none"/>
<text x="0" y="0" text-anchor="middle" font-size="21" letter-spacing="2.6" transform="translate(691.3 620) scale(0.86 1)" >Ø<tspan dx="-4.5"> </tspan>132</text>
<line x1="667.6" y1="642" x2="667.6" y2="754" stroke-width="1.5"/>
<line x1="718" y1="642" x2="718" y2="754" stroke-width="1.5"/>
<line x1="667.6" y1="663" x2="718" y2="663" stroke-width="1.5"/>
<polygon points="667.6,663 682.1,658.8 682.1,667.2" fill="#141414" stroke="none"/>
<polygon points="718,663 703.5,667.2 703.5,658.8" fill="#141414" stroke="none"/>
<text x="0" y="0" text-anchor="middle" font-size="21" letter-spacing="1.6" transform="translate(694.8 655) scale(0.86 1)" >DN 80</text>
<circle cx="692.8" cy="754" r="71.3" stroke-width="1.62" fill="none"/>
<circle cx="692.8" cy="754" r="55.7" stroke-width="1.62" fill="none" stroke-dasharray="26 7"/>
<circle cx="692.8" cy="754" r="45.3" stroke-width="1.62" fill="none"/>
<circle cx="692.8" cy="754" r="25.2" stroke-width="1.62" fill="none"/>
<circle cx="653.1" cy="793.2" r="7.2" stroke-width="1.62" fill="#fff"/>
<line x1="594.8" y1="785.6" x2="653.1" y2="785.6" stroke-width="2"/>
<line x1="594.8" y1="800.8" x2="653.1" y2="800.8" stroke-width="1.38"/>
<line x1="601" y1="709" x2="601" y2="785" stroke-width="1.38"/>
<polygon points="601,785.6 596.8,769.6 605.2,769.6" fill="#141414" stroke="none"/>
<line x1="601" y1="801" x2="601" y2="837" stroke-width="1.38"/>
<polygon points="601,800.8 605.2,816.8 596.8,816.8" fill="#141414" stroke="none"/>
<text x="0" y="0" text-anchor="middle" font-size="21" letter-spacing="2.0" transform="translate(595 739) rotate(-90) scale(0.86 1)" >8 x Ø19</text>
<line x1="609.8" y1="754" x2="776.8" y2="754" stroke-width="1.5" stroke-dasharray="34 5 7 5"/>
<line x1="692.8" y1="672" x2="692.8" y2="837" stroke-width="1.5" stroke-dasharray="5 4 32 4"/>
<line x1="692.8" y1="862" x2="692.8" y2="887" stroke-width="1.38"/>
<polygon points="692.8,849 697.4,865.5 688.2,865.5" fill="#141414" stroke="none"/>
<line x1="845.3" y1="561" x2="845.3" y2="754" stroke-width="1.5"/>
<line x1="987.9" y1="561" x2="987.9" y2="754" stroke-width="1.5"/>
<line x1="845.3" y1="566.6" x2="987.9" y2="566.6" stroke-width="1.5"/>
<polygon points="845.3,566.6 861.3,562.4 861.3,570.8" fill="#141414" stroke="none"/>
<polygon points="987.9,566.6 971.9,570.8 971.9,562.4" fill="#141414" stroke="none"/>
<text x="0" y="0" text-anchor="middle" font-size="21" letter-spacing="2.6" transform="translate(915.1 558.5) scale(0.86 1)" >Ø<tspan dx="-4.5"> </tspan>185</text>
<line x1="860.9" y1="595" x2="860.9" y2="754" stroke-width="1.5"/>
<line x1="972.3" y1="595" x2="972.3" y2="754" stroke-width="1.5"/>
<line x1="860.9" y1="599.6" x2="972.3" y2="599.6" stroke-width="1.5"/>
<polygon points="860.9,599.6 876.9,595.4 876.9,603.8" fill="#141414" stroke="none"/>
<polygon points="972.3,599.6 956.3,603.8 956.3,595.4" fill="#141414" stroke="none"/>
<text x="0" y="0" text-anchor="middle" font-size="21" letter-spacing="2.6" transform="translate(915.1 592.5) scale(0.86 1)" >Ø<tspan dx="-4.5"> </tspan>145</text>
<line x1="871.3" y1="624" x2="871.3" y2="754" stroke-width="1.5"/>
<line x1="961.9" y1="624" x2="961.9" y2="754" stroke-width="1.5"/>
<line x1="871.3" y1="629" x2="961.9" y2="629" stroke-width="1.5"/>
<polygon points="871.3,629 887.3,624.8 887.3,633.2" fill="#141414" stroke="none"/>
<polygon points="961.9,629 945.9,633.2 945.9,624.8" fill="#141414" stroke="none"/>
<text x="0" y="0" text-anchor="middle" font-size="21" letter-spacing="2.6" transform="translate(915.1 620) scale(0.86 1)" >Ø<tspan dx="-4.5"> </tspan>118</text>
<line x1="891.4" y1="642" x2="891.4" y2="754" stroke-width="1.5"/>
<line x1="941.8" y1="642" x2="941.8" y2="754" stroke-width="1.5"/>
<line x1="891.4" y1="663" x2="941.8" y2="663" stroke-width="1.5"/>
<polygon points="891.4,663 905.9,658.8 905.9,667.2" fill="#141414" stroke="none"/>
<polygon points="941.8,663 927.3,667.2 927.3,658.8" fill="#141414" stroke="none"/>
<text x="0" y="0" text-anchor="middle" font-size="21" letter-spacing="1.6" transform="translate(918.6 655) scale(0.86 1)" >DN 65</text>
<circle cx="916.6" cy="754" r="71.3" stroke-width="1.62" fill="none"/>
<circle cx="916.6" cy="754" r="55.7" stroke-width="1.62" fill="none" stroke-dasharray="26 7"/>
<circle cx="916.6" cy="754" r="45.3" stroke-width="1.62" fill="none"/>
<circle cx="916.6" cy="754" r="25.2" stroke-width="1.62" fill="none"/>
<circle cx="876.9" cy="793.2" r="7.2" stroke-width="1.62" fill="#fff"/>
<line x1="818.6" y1="785.6" x2="876.9" y2="785.6" stroke-width="2"/>
<line x1="818.6" y1="800.8" x2="876.9" y2="800.8" stroke-width="1.38"/>
<line x1="824.8" y1="709" x2="824.8" y2="785" stroke-width="1.38"/>
<polygon points="824.8,785.6 820.6,769.6 829,769.6" fill="#141414" stroke="none"/>
<line x1="824.8" y1="801" x2="824.8" y2="837" stroke-width="1.38"/>
<polygon points="824.8,800.8 829,816.8 820.6,816.8" fill="#141414" stroke="none"/>
<text x="0" y="0" text-anchor="middle" font-size="21" letter-spacing="2.0" transform="translate(818.8 739) rotate(-90) scale(0.86 1)" >4 x Ø19</text>
<line x1="833.6" y1="754" x2="1000.6" y2="754" stroke-width="1.5" stroke-dasharray="34 5 7 5"/>
<line x1="916.6" y1="672" x2="916.6" y2="837" stroke-width="1.5" stroke-dasharray="5 4 32 4"/>
<line x1="916.6" y1="849" x2="916.6" y2="873" stroke-width="1.38"/>
<polygon points="916.6,886 912,869.5 921.2,869.5" fill="#141414" stroke="none"/>
</svg>
</body></html>
